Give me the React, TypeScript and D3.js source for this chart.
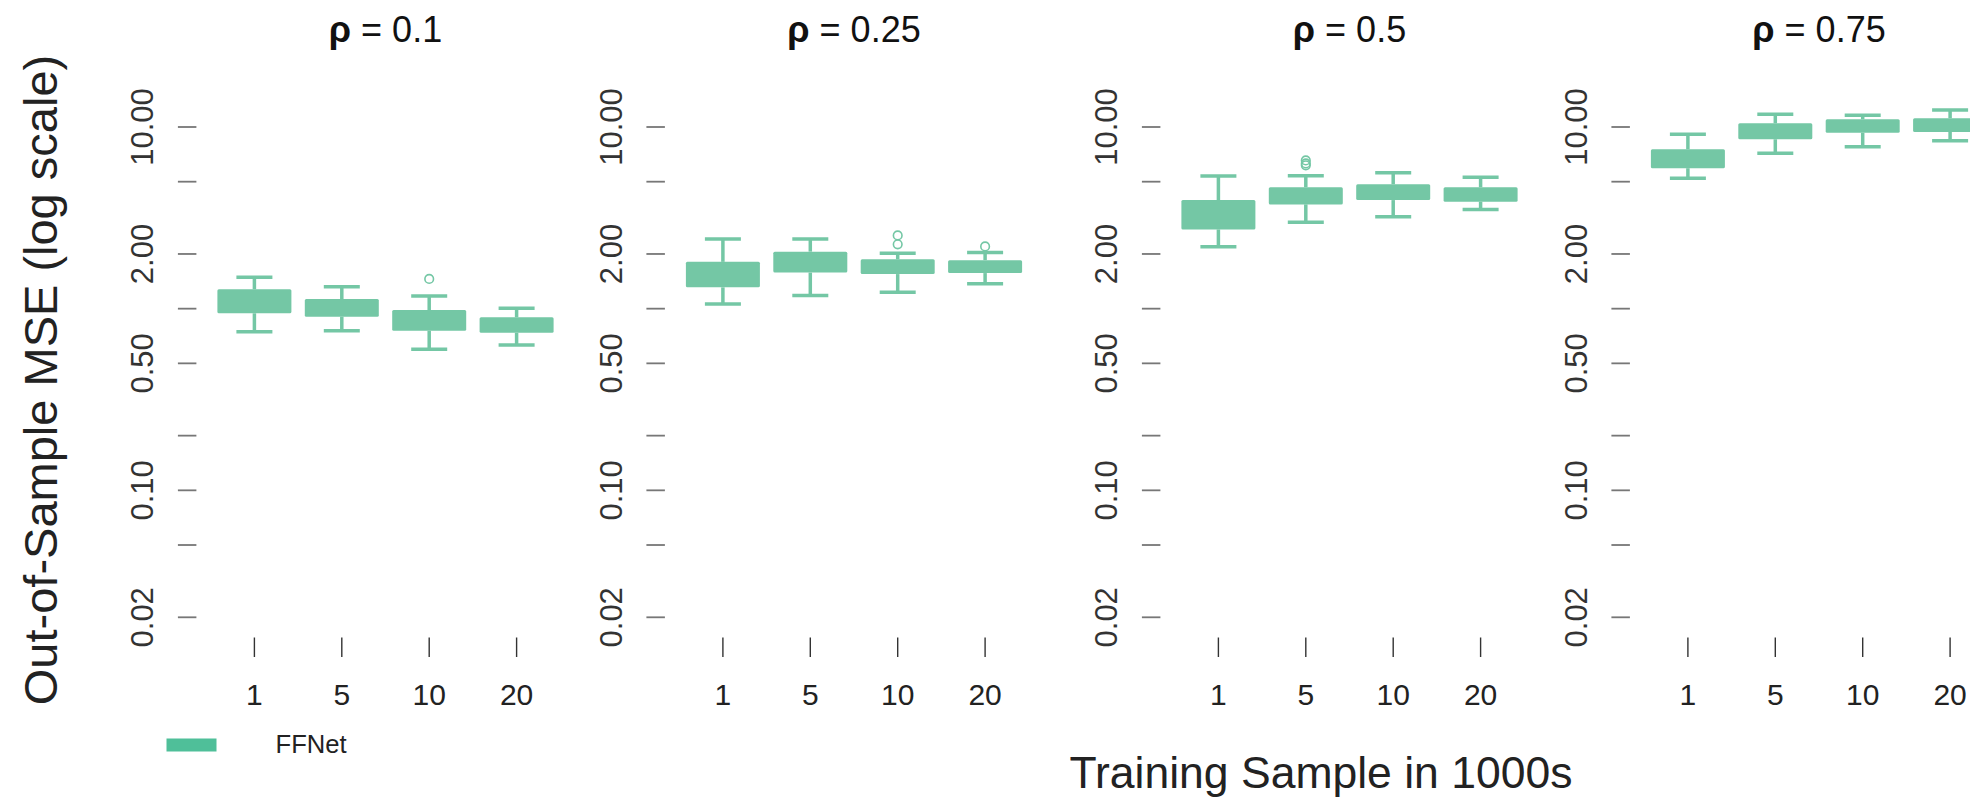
import React from "react";
import * as d3 from "d3";

// ---- data ----
const panelTitles = ["0.1", "0.25", "0.5", "0.75"];
const sampleSizes = ["1", "5", "10", "20"];
const modelName = "FFNet";

// per panel: [whiskerLow, q1, q3, whiskerHigh] for the 4 training sizes
const rho010 = [
  [0.747, 0.943, 1.278, 1.488],
  [0.756, 0.903, 1.13, 1.321],
  [0.598, 0.756, 0.983, 1.174],
  [0.631, 0.737, 0.896, 1.005],
];
const rho025 = [
  [1.06, 1.31, 1.81, 2.42],
  [1.18, 1.58, 2.06, 2.42],
  [1.23, 1.55, 1.87, 2.02],
  [1.37, 1.57, 1.85, 2.04],
];
const rho050 = [
  [2.19, 2.73, 3.96, 5.37],
  [2.99, 3.75, 4.66, 5.39],
  [3.21, 3.96, 4.84, 5.6],
  [3.52, 3.88, 4.66, 5.29],
];
const rho075 = [
  [5.22, 5.93, 7.54, 9.12],
  [7.17, 8.56, 10.48, 11.75],
  [7.79, 9.3, 11.03, 11.6],
  [8.41, 9.39, 11.17, 12.41],
];
const outliers010 = [[], [], [1.457], []];
const outliers025 = [[], [], [2.53, 2.26], [2.2]];
const outliers050 = [[], [6.55, 6.3, 6.15], [], []];
const outliers075 = [[], [], [], []];

const yTicks = [10, 5, 2, 1, 0.5, 0.2, 0.1, 0.05, 0.02];
const yTickLabels = [10, 2, 0.5, 0.1, 0.02];

const panelBoxes = [rho010, rho025, rho050, rho075];
const panelOutliers = [outliers010, outliers025, outliers050, outliers075];

// ---- layout ----
const W = 1970;
const H = 801;
const panelCenters = [385.5, 854, 1349.5, 1819];
const step = 87.4;
const boxW = 74;
const capW = 36;
const FILL = "#74c7a5";
const LEGEND = "#4fbf99";
const FONT = "'Liberation Sans', Arial, Helvetica, sans-serif";

const y = d3.scaleLog().domain([0.02, 10]).range([617.3, 127]);
const fmt = d3.format(".2f");

function Panel({ idx }: { idx: number }) {
  const c = panelCenters[idx];
  const x = d3
    .scaleLinear()
    .domain([1, 4])
    .range([c - 1.5 * step, c + 1.5 * step]);
  const boxes = panelBoxes[idx];
  const outs = panelOutliers[idx];
  const dashX0 = x(1) - 76.5;
  const dashX1 = dashX0 + 18.5;
  const labelX = dashX0 - 24.5;
  return (
    <g>
      <text
        x={c}
        y={41.7}
        textAnchor="middle"
        fontSize={36}
        fontFamily={FONT}
        fill="#111"
      >
        <tspan fontWeight="bold">ρ</tspan>
        <tspan>{" = " + panelTitles[idx]}</tspan>
      </text>
      {yTicks.map((t) => (
        <line
          key={"yt" + t}
          x1={dashX0}
          x2={dashX1}
          y1={y(t)}
          y2={y(t)}
          stroke="#777"
          strokeWidth={1.8}
        />
      ))}
      {yTickLabels.map((t) => (
        <text
          key={"yl" + t}
          transform={`translate(${labelX},${y(t)}) rotate(-90)`}
          textAnchor="middle"
          fontSize={31}
          fontFamily={FONT}
          fill="#333"
        >
          {fmt(t)}
        </text>
      ))}
      {sampleSizes.map((s, i) => (
        <g key={"xt" + s}>
          <line
            x1={x(i + 1)}
            x2={x(i + 1)}
            y1={637.5}
            y2={657}
            stroke="#333"
            strokeWidth={1.4}
          />
          <text
            x={x(i + 1)}
            y={705}
            textAnchor="middle"
            fontSize={30}
            fontFamily={FONT}
            fill="#222"
          >
            {s}
          </text>
        </g>
      ))}
      {boxes.map((b, i) => {
        const cx = x(i + 1);
        const [lo, q1, q3, hi] = b;
        return (
          <g key={"b" + i}>
            <line x1={cx} x2={cx} y1={y(lo)} y2={y(q1)} stroke={FILL} strokeWidth={3.5} />
            <line x1={cx} x2={cx} y1={y(q3)} y2={y(hi)} stroke={FILL} strokeWidth={3.5} />
            <line x1={cx - capW / 2} x2={cx + capW / 2} y1={y(lo)} y2={y(lo)} stroke={FILL} strokeWidth={3.5} />
            <line x1={cx - capW / 2} x2={cx + capW / 2} y1={y(hi)} y2={y(hi)} stroke={FILL} strokeWidth={3.5} />
            <rect
              x={cx - boxW / 2}
              y={y(q3)}
              width={boxW}
              height={y(q1) - y(q3)}
              fill={FILL}
              rx={1.5}
            />
            {outs[i].map((o, k) => (
              <circle
                key={"o" + k}
                cx={cx}
                cy={y(o)}
                r={4.3}
                fill="none"
                stroke={FILL}
                strokeWidth={1.6}
              />
            ))}
          </g>
        );
      })}
    </g>
  );
}

export default function App() {
  return (
    <svg
      width={W}
      height={H}
      style={{ position: "absolute", left: 0, top: 0, background: "#fff" }}
    >
      <rect x={0} y={0} width={W} height={H} fill="#fff" />
      {panelCenters.map((_, i) => (
        <Panel key={i} idx={i} />
      ))}
      <text
        transform={`translate(${57},${380}) rotate(-90)`}
        textAnchor="middle"
        fontSize={47}
        fontFamily={FONT}
        fill="#222"
      >
        Out-of-Sample MSE (log scale)
      </text>
      <text
        x={1321}
        y={788}
        textAnchor="middle"
        fontSize={44.5}
        fontFamily={FONT}
        fill="#222"
      >
        Training Sample in 1000s
      </text>
      <rect x={166.5} y={738.5} width={50} height={13} fill={LEGEND} />
      <text x={275.5} y={752.5} fontSize={25.6} fontFamily={FONT} fill="#222">
        {modelName}
      </text>
    </svg>
  );
}
